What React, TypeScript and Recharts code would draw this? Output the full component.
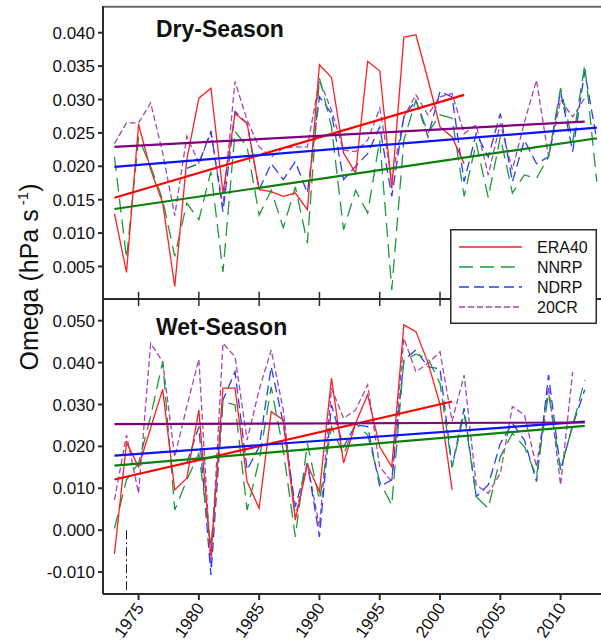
import React from 'react';
import { LineChart, Line, XAxis, YAxis, ReferenceLine } from 'recharts';

// x axis
const X_DOMAIN = [1972.05, 2013.35];
const X_TICKS = [1975, 1980, 1985, 1990, 1995, 2000, 2005, 2010];

// y axes
const DRY_DOMAIN = [0.00013, 0.044];
const DRY_TICKS = [0.005, 0.01, 0.015, 0.02, 0.025, 0.03, 0.035, 0.04];
const WET_DOMAIN = [-0.01524, 0.05518];
const WET_TICKS = [-0.01, 0, 0.01, 0.02, 0.03, 0.04, 0.05];

// dry season, first year of each series
const DRY_START = { ERA40: 1973, NNRP: 1973, NDRP: 1979, '20CR': 1973 };
const DRY_ERA40 = [
  0.0129, 0.0041, 0.0263, 0.0195, 0.0145, 0.002, 0.021, 0.0302, 0.0317, 0.016,
  0.0279, 0.0264, 0.0165, 0.0162, 0.0155, 0.016, 0.0135, 0.0352, 0.0333, 0.022,
  0.019, 0.0357, 0.0343, 0.0167, 0.0393, 0.0397, 0.033, 0.0259, 0.0244, 0.0204,
];
const DRY_NNRP = [
  0.0214, 0.0062, 0.0242, 0.02, 0.015, 0.0065, 0.0145, 0.012, 0.0192, 0.0042,
  0.0252, 0.0229, 0.0127, 0.0164, 0.0108, 0.0169, 0.0085, 0.0332, 0.0259, 0.0105,
  0.0164, 0.013, 0.0239, 0.0015, 0.0239, 0.0299, 0.025, 0.0277, 0.0272, 0.0155,
  0.0235, 0.0153, 0.0244, 0.016, 0.0187, 0.0182, 0.0214, 0.0317, 0.0237, 0.0352,
  0.0177,
];
const DRY_NDRP = [
  0.0197, 0.0204, 0.0253, 0.0132, 0.0282, 0.0264, 0.0165, 0.0204, 0.018, 0.0207,
  0.016, 0.0304, 0.0279, 0.018, 0.02, 0.0219, 0.0259, 0.0155, 0.0274, 0.0299,
  0.0244, 0.0312, 0.0304, 0.0177, 0.0249, 0.0214, 0.0279, 0.0177, 0.0239, 0.0204,
  0.0214, 0.0312, 0.0222, 0.0342, 0.024,
];
const DRY_20CR = [
  0.0234, 0.0265, 0.0265, 0.0295, 0.022, 0.0126, 0.0245, 0.0205, 0.025, 0.014,
  0.0327, 0.0269, 0.0229, 0.0214, 0.0227, 0.0229, 0.0229, 0.0329, 0.0284, 0.0224,
  0.0222, 0.0239, 0.0287, 0.018, 0.0274, 0.0307, 0.0277, 0.0304, 0.0309, 0.0249,
  0.0262, 0.0187, 0.0264, 0.0195, 0.0266, 0.0329, 0.0214, 0.0299, 0.0274, 0.0302,
];

// wet season
const WET_START = { ERA40: 1973, NNRP: 1973, NDRP: 1979, '20CR': 1973 };
const WET_ERA40 = [
  -0.0057, 0.0209, 0.0151, 0.0244, 0.0336, 0.0096, 0.0124, 0.0287, -0.0063, 0.0339,
  0.0339, 0.0116, 0.0052, 0.0283, 0.0263, 0.0024, 0.0156, 0.0092, 0.0363, 0.016,
  0.0255, 0.0323, 0.0199, 0.0151, 0.049, 0.0474, 0.04, 0.03, 0.0096,
];
const WET_NNRP = [
  0.0004, 0.012, 0.016, 0.0271, 0.0402, 0.0048, 0.012, 0.0183, -0.0039, 0.0307,
  0.0299, 0.0048, 0.0167, 0.0342, 0.0191, -0.0016, 0.0207, 0.0072, 0.0247, 0.018,
  0.0255, 0.0227, 0.0116, 0.006, 0.0406, 0.042, 0.041, 0.035, 0.015, 0.0279,
  0.008, 0.0052, 0.0175, 0.0231, 0.0199, 0.0128, 0.0327, 0.0144, 0.025, 0.0358,
];
const WET_NDRP = [
  0.016, 0.0247, -0.0107, 0.0311, 0.0378, 0.0144, 0.0199, 0.039, 0.0255, 0.0056,
  0.016, -0.0016, 0.0299, 0.0199, 0.0251, 0.0247, 0.0104, 0.012, 0.0406, 0.043,
  0.039, 0.0385, 0.0151, 0.0291, 0.008, 0.0108, 0.0207, 0.0255, 0.0215, 0.0116,
  0.037, 0.0144, 0.025, 0.0335,
];
const WET_20CR = [
  0.0072, 0.0227, 0.0088, 0.0446, 0.0402, 0.0175, 0.0295, 0.0408, -0.0087, 0.0446,
  0.0414, 0.0215, 0.0335, 0.043, 0.0287, 0.0032, 0.016, 0.0008, 0.0339, 0.0267,
  0.0287, 0.0347, 0.0151, 0.0116, 0.0458, 0.0378, 0.0398, 0.0426, 0.026, 0.037,
  0.0108, 0.0088, 0.0136, 0.0295, 0.0275, 0.0151, 0.0342, 0.0108, 0.0378,
];

// linear trends, [year, value] at both ends
const DRY_TRENDS = {
  ERA40: [[1973, 0.0153], [2002, 0.0307]],
  NNRP: [[1973, 0.0136], [2013, 0.0242]],
  NDRP: [[1973, 0.0199], [2013, 0.0258]],
  '20CR': [[1973, 0.0229], [2012, 0.0267]],
};
const WET_TRENDS = {
  ERA40: [[1973, 0.0121], [2001, 0.0307]],
  NNRP: [[1973, 0.0154], [2012, 0.0249]],
  NDRP: [[1973, 0.0178], [2012, 0.0259]],
  '20CR': [[1973, 0.0253], [2012, 0.0257]],
};

// dash-dot marker in the wet panel
const MARK_YEAR = 1974;
const MARK_TOP = 0.0;

const SERIES = [
  { name: 'ERA40', color: '#ff2020', dash: undefined, trend: '#ff0000' },
  { name: 'NNRP', color: '#1c9a3a', dash: '14 7', trend: '#0a7f0a' },
  { name: 'NDRP', color: '#2a3dff', dash: '10 5', trend: '#0a14ff' },
  { name: '20CR', color: '#a646b4', dash: '6 3', trend: '#800080' },
];

const FONT = '"Liberation Sans", Arial, sans-serif';
const AXIS = '#2b2b2b';
const TOP = 6;
const MID = 299;

const toRows = (start: number, vals: number[]) => vals.map((v, i) => ({ year: start + i, v }));
const trendRows = (pts: number[][]) => pts.map(([year, v]) => ({ year, v }));

const DRY_VALUES: Record<string, number[]> = { ERA40: DRY_ERA40, NNRP: DRY_NNRP, NDRP: DRY_NDRP, '20CR': DRY_20CR };
const WET_VALUES: Record<string, number[]> = { ERA40: WET_ERA40, NNRP: WET_NNRP, NDRP: WET_NDRP, '20CR': WET_20CR };

const fmt = (v: number) => v.toFixed(3);
const tickFont = { fontSize: 17, fontFamily: FONT, fill: '#111' };

const YearTick = (props: any) => {
  const { x, y, payload } = props;
  const ax = x + 6;
  const ay = y + 8;
  return (
    <text x={ax} y={ay} transform={`rotate(-55 ${ax} ${ay})`} textAnchor="end" fontSize={17} fontFamily={FONT} fill="#111">
      {payload.value}
    </text>
  );
};

const LegendBox = () => (
  <svg width={147} height={95} style={{ display: 'block' }}>
    <rect x={0.75} y={0.75} width={145.5} height={93.5} fill="#fff" stroke={AXIS} strokeWidth={1.5} />
    {SERIES.map((s, i) => {
      const y = 18 + i * 20;
      return (
        <g key={s.name}>
          <line x1={9} x2={72} y1={y} y2={y} stroke={s.color} strokeWidth={1.4} strokeDasharray={s.dash} />
          <text x={87} y={y + 6} fontSize={16} fontFamily={FONT} fill="#111">{s.name}</text>
        </g>
      );
    })}
  </svg>
);

const seriesLines = (values: Record<string, number[]>, start: Record<string, number>) =>
  [...SERIES].reverse().map((s) => (
    <Line
      key={s.name}
      data={toRows(start[s.name], values[s.name])}
      dataKey="v"
      stroke={s.color}
      strokeWidth={1.3}
      strokeDasharray={s.dash}
      dot={false}
      isAnimationActive={false}
    />
  ));

const trendLines = (trends: Record<string, number[][]>) =>
  SERIES.map((s) => (
    <Line
      key={`t-${s.name}`}
      data={trendRows(trends[s.name])}
      dataKey="v"
      stroke={s.trend}
      strokeWidth={2.2}
      dot={false}
      isAnimationActive={false}
    />
  ));

export default function App() {
  return (
    <div style={{ position: 'absolute', left: 0, top: 0, width: 601, height: 641, background: '#fff' }}>
      <div style={{ position: 'absolute', left: 0, top: 0 }}>
        <LineChart width={601} height={300} margin={{ top: TOP, right: 0, bottom: 0, left: 43 }}>
          <XAxis
            type="number"
            dataKey="year"
            domain={X_DOMAIN}
            ticks={X_TICKS}
            allowDataOverflow
            height={1}
            stroke={AXIS}
            strokeWidth={2}
            tickLine={false}
            tick={false}
          />
          <YAxis
            type="number"
            domain={DRY_DOMAIN}
            ticks={DRY_TICKS}
            allowDataOverflow
            width={60}
            stroke={AXIS}
            strokeWidth={2}
            tickSize={5}
            tickMargin={3}
            tick={tickFont}
            tickFormatter={fmt}
          />
          <ReferenceLine y={0.0439} stroke="#6a6a6a" strokeWidth={2} />
          {X_TICKS.map((t) => (
            <ReferenceLine key={t} segment={[{ x: t, y: 0.0012 }, { x: t, y: DRY_DOMAIN[0] }]} stroke={AXIS} strokeWidth={1.5} />
          ))}
          {seriesLines(DRY_VALUES, DRY_START)}
          {trendLines(DRY_TRENDS)}
        </LineChart>
      </div>
      <div style={{ position: 'absolute', left: 0, top: MID }}>
        <LineChart width={601} height={342} margin={{ top: 0, right: 0, bottom: 2, left: 43 }}>
          <XAxis
            type="number"
            dataKey="year"
            domain={X_DOMAIN}
            ticks={X_TICKS}
            allowDataOverflow
            height={45}
            stroke={AXIS}
            strokeWidth={2}
            tickSize={6}
            tickMargin={0}
            tick={<YearTick />}
          />
          <YAxis
            type="number"
            domain={WET_DOMAIN}
            ticks={WET_TICKS}
            allowDataOverflow
            width={60}
            stroke={AXIS}
            strokeWidth={2}
            tickSize={5}
            tickMargin={3}
            tick={tickFont}
            tickFormatter={fmt}
          />
          {X_TICKS.map((t) => (
            <ReferenceLine key={t} segment={[{ x: t, y: WET_DOMAIN[1] }, { x: t, y: 0.0535 }]} stroke={AXIS} strokeWidth={1.5} />
          ))}
          <ReferenceLine
            segment={[{ x: MARK_YEAR, y: MARK_TOP }, { x: MARK_YEAR, y: WET_DOMAIN[0] }]}
            stroke="#222"
            strokeWidth={1}
            strokeDasharray="9 3 2 3"
          />
          {seriesLines(WET_VALUES, WET_START)}
          {trendLines(WET_TRENDS)}
        </LineChart>
      </div>
      <svg width={601} height={641} style={{ position: 'absolute', left: 0, top: 0, pointerEvents: 'none' }}>
        <text x={156} y={37} fontSize={23} fontWeight="bold" fontFamily={FONT} fill="#111">Dry-Season</text>
        <text x={156} y={335} fontSize={23} fontWeight="bold" fontFamily={FONT} fill="#111">Wet-Season</text>
        <text x={38} y={277} transform="rotate(-90 38 277)" textAnchor="middle" fontSize={25} fontFamily={FONT} fill="#111">
          Omega (hPa s
          <tspan fontSize={15} dy={-10}> -1</tspan>
          <tspan dy={10}>)</tspan>
        </text>
      </svg>
      <div style={{ position: 'absolute', left: 450, top: 229 }}>
        <LegendBox />
      </div>
    </div>
  );
}
